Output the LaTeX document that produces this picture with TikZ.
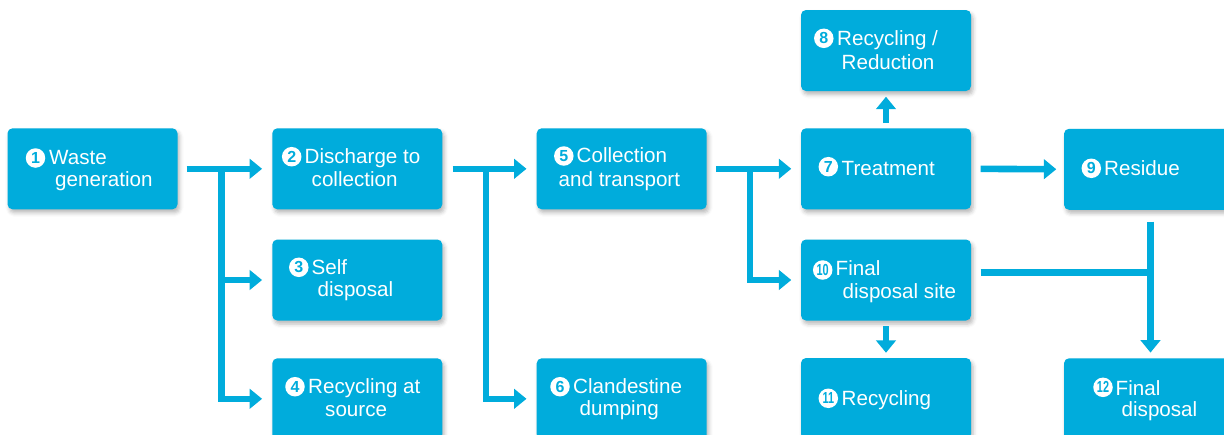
\documentclass[tikz,border=0pt]{standalone}
\usepackage{fontspec}
\setmainfont{Liberation Sans}
\usetikzlibrary{arrows.meta,shadows.blur}
\definecolor{wcyan}{RGB}{0,172,220}
\tikzset{
  box/.style={fill=wcyan, rounded corners=5pt, minimum width=170pt, minimum height=81pt, inner sep=0pt,
    blur shadow={shadow xshift=2pt, shadow yshift=-3.5pt, shadow blur radius=4pt, shadow opacity=28}},
  txt/.style={text=white, inner sep=0pt, anchor=base west, font=\fontsize{20.6}{24}\selectfont},
  num/.style={circle, fill=white, text=wcyan, minimum size=19.5pt, inner sep=0pt, font=\bfseries\fontsize{16}{16}\selectfont},
  link/.style={draw=wcyan, line width=6.6pt},
  arr/.style={link, -{Triangle[width=19.5pt,length=12.5pt]}},
}
\newcommand\twod[1]{\scalebox{0.68}[1]{#1}}
\begin{document}
\begin{tikzpicture}[x=1pt,y=-1pt]
\useasboundingbox (0,0) rectangle (1224,434);
\clip (0,0) rectangle (1224,434);
% boxes
\node[box] (n1) at (92.5,168.8) {};
\node[box] (n2) at (357.3,168.8) {};
\node[box] (n3) at (357.3,280) {};
\node[box] (n4) at (357.3,398.8) {};
\node[box] (n5) at (621.7,168.8) {};
\node[box] (n6) at (621.7,398.8) {};
\node[box] (n7) at (886,168.8) {};
\node[box] (n8) at (886,50.5) {};
\node[box] (n9) at (1149,169.3) {};
\node[box] (n10) at (886,280) {};
\node[box] (n11) at (886,398.5) {};
\node[box] (n12) at (1149,398.8) {};
% labels
\node[num] (c1) at (35.5,158) {1};
\node[txt] (t1a) at (49,164) {Waste};
\node[txt] (t1b) at (55,186) {generation};
\node[num] (c2) at (291.7,156.7) {2};
\node[txt] (t2a) at (304.5,163) {Discharge to};
\node[txt] (t2b) at (311.5,186.5) {collection};
\node[num] (c3) at (298.8,267.3) {3};
\node[txt] (t3a) at (311.5,274) {Self};
\node[txt] (t3b) at (317.5,296.7) {disposal};
\node[num] (c4) at (295,386.7) {4};
\node[txt] (t4a) at (308,393.3) {Recycling at};
\node[txt] (t4b) at (325,416.5) {source};
\node[num] (c5) at (563.8,156) {5};
\node[txt] (t5a) at (576.5,162.7) {Collection};
\node[txt] (t5b) at (558.5,186) {and transport};
\node[num] (c6) at (560,386.7) {6};
\node[txt] (t6a) at (573,393.3) {Clandestine};
\node[txt] (t6b) at (579.5,415) {dumping};
\node[num] (c7) at (828.3,166.7) {7};
\node[txt] (t7a) at (841.5,175) {Treatment};
\node[num] (c8) at (823.8,38.3) {8};
\node[txt] (t8a) at (837,45) {Recycling /};
\node[txt] (t8b) at (841.5,69) {Reduction};
\node[num] (c9) at (1091.3,168.3) {9};
\node[txt] (t9a) at (1104,175) {Residue};
\node[num] (c10) at (822.7,270) {\twod{10}};
\node[txt] (t10a) at (835.5,275.7) {Final};
\node[txt] (t10b) at (842.5,298.3) {disposal site};
\node[num] (c11) at (828.3,398.3) {\twod{11}};
\node[txt] (t11a) at (841.5,405) {Recycling};
\node[num] (c12) at (1103,387.3) {\twod{12}};
\node[txt] (t12a) at (1115.5,395) {Final};
\node[txt] (t12b) at (1121.5,416.7) {disposal};
% junctions
\coordinate (j1) at (221.7,168.8);
\coordinate (j2) at (486,168.8);
\coordinate (j3) at (750,168.8);
% connectors
\draw[arr, shorten <=9pt, shorten >=10pt] (n1.east) -- (n2.west);
\draw[arr, shorten >=10pt] (j1) |- (n3.west);
\draw[arr, shorten >=10pt] (j1) |- (n4.west);
\draw[arr, shorten <=10pt, shorten >=10pt] (n2.east) -- (n5.west);
\draw[arr, shorten >=10pt] (j2) |- (n6.west);
\draw[arr, shorten <=9.5pt, shorten >=9.5pt] (n5.east) -- (n7.west);
\draw[arr, shorten >=9.5pt] (j3) |- (n10.west);
\draw[arr, shorten <=5pt, shorten >=5.5pt] (n7.north) -- (n8.south);
\draw[arr, shorten <=9.5pt, shorten >=7.5pt] (n7.east) -- (n9.west);
\draw[arr, shorten <=5.3pt, shorten >=5pt] (n10.south) -- (n11.north);
\draw[arr, shorten <=11.5pt, shorten >=5.5pt] ([xshift=1.5pt]n9.south) -- ([xshift=1.5pt]n12.north);
\draw[link, shorten <=9.3pt] ([yshift=7.3pt]n10.east) -- ([yshift=7.3pt,xshift=1.5pt]n10.east -| n12.north);
\end{tikzpicture}
\end{document}
